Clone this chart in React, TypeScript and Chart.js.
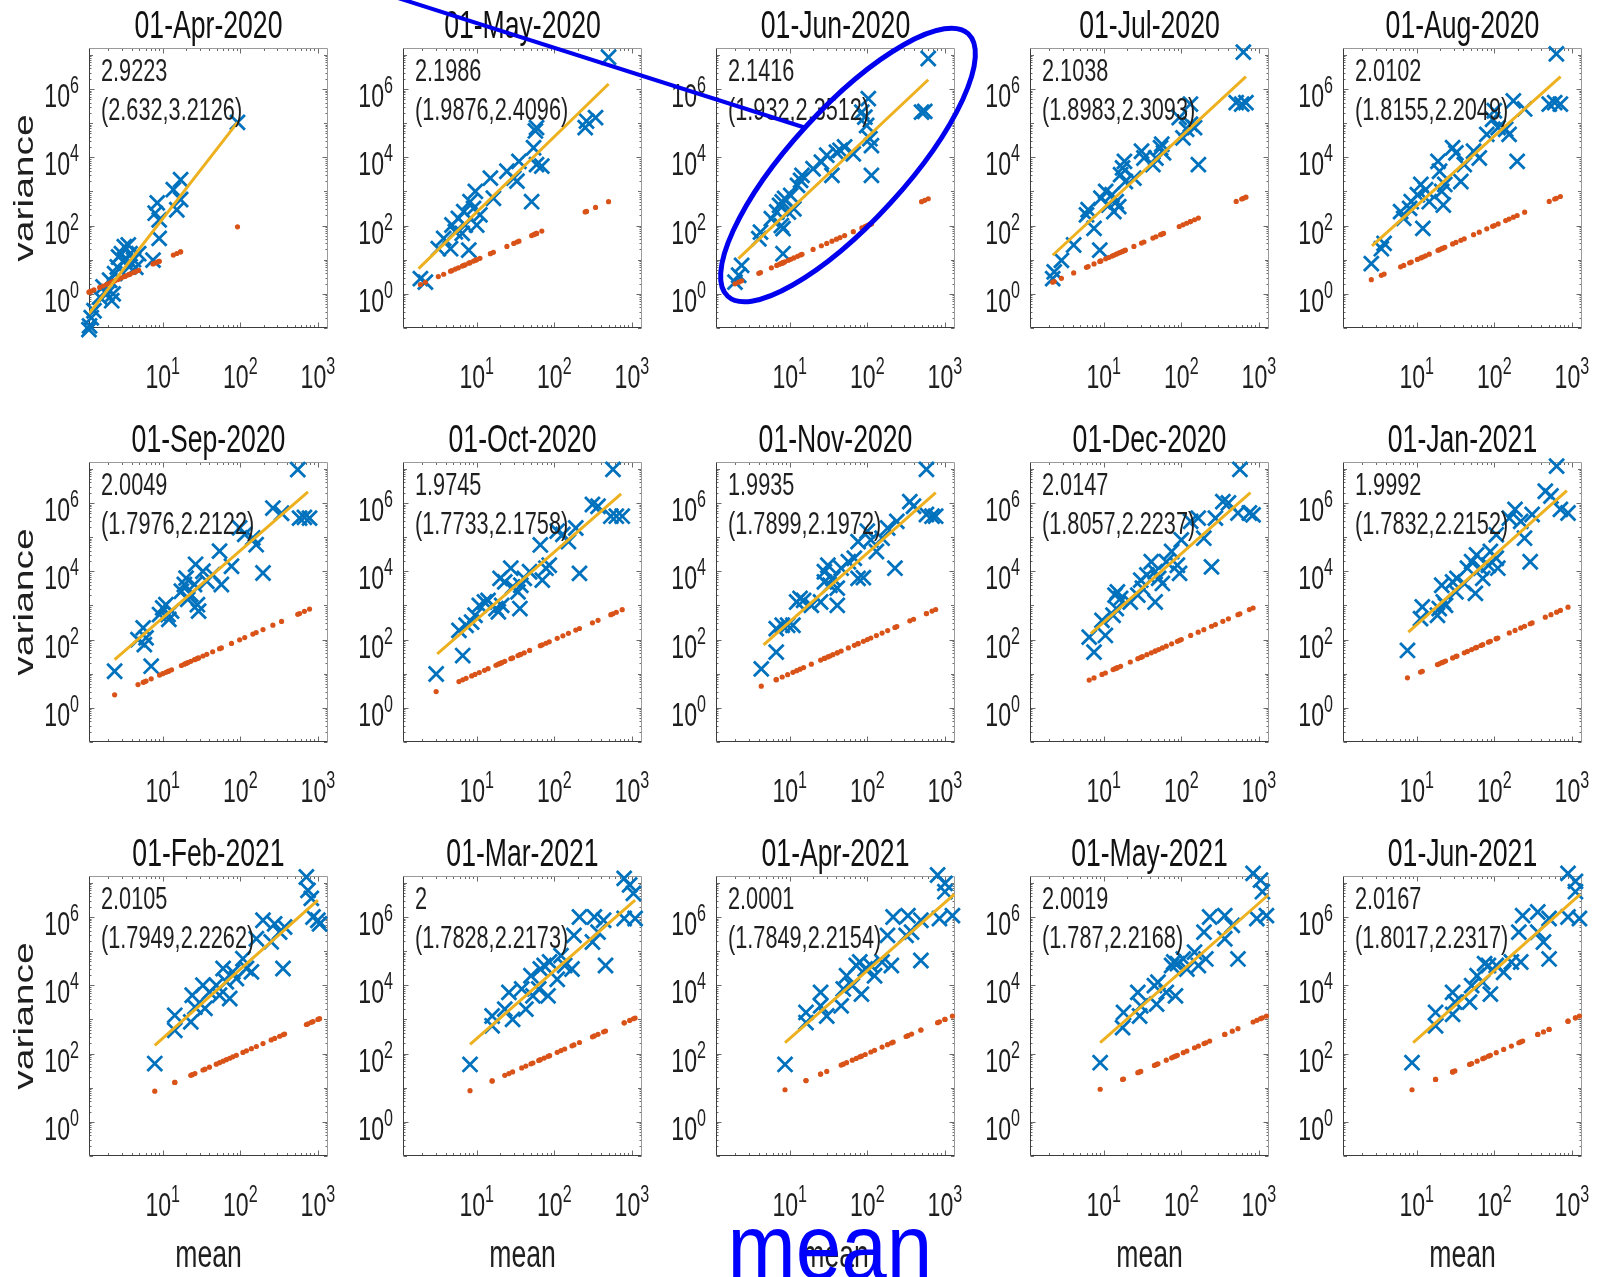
import React, { useEffect, useRef } from "react";
import { Chart, registerables } from "chart.js";

Chart.register(...registerables);

// ---------------- data ----------------
const panelTitles = [
  "01-Apr-2020", "01-May-2020", "01-Jun-2020", "01-Jul-2020", "01-Aug-2020",
  "01-Sep-2020", "01-Oct-2020", "01-Nov-2020", "01-Dec-2020", "01-Jan-2021",
  "01-Feb-2021", "01-Mar-2021", "01-Apr-2021", "01-May-2021", "01-Jun-2021",
];
const slopeLabels = [
  "2.9223", "2.1986", "2.1416", "2.1038", "2.0102",
  "2.0049", "1.9745", "1.9935", "2.0147", "1.9992",
  "2.0105", "2", "2.0001", "2.0019", "2.0167",
];
const ciLabels = [
  "(2.632,3.2126)", "(1.9876,2.4096)", "(1.932,2.3512)", "(1.8983,2.3093)", "(1.8155,2.2049)",
  "(1.7976,2.2122)", "(1.7733,2.1758)", "(1.7899,2.1972)", "(1.8057,2.2237)", "(1.7832,2.2152)",
  "(1.7949,2.2262)", "(1.7828,2.2173)", "(1.7849,2.2154)", "(1.787,2.2168)", "(1.8017,2.2317)",
];
const xTickExponents = [1, 2, 3];
const yTickExponents = [0, 2, 4, 6];
const xAxisLabel = "mean";
const yAxisLabel = "variance";
const bigLabel = "mean";

const meanApr20 = [1.12, 1.14, 1.2, 1.3, 1.54, 1.7, 1.9, 2.07, 2.2, 2.3, 2.4, 2.6, 2.7, 2.94, 3.2, 3.3, 3.6, 3.7, 3.8, 4.2, 4.5, 4.9, 7.5, 8.0, 8.5, 9.0, 9.0, 13.7, 15.2, 17, 17, 92];
const varApr20 = [0.09, 0.115, 0.2, 0.32, 0.8, 1.6, 1.0, 2.5, 0.63, 1.0, 3.9, 6.1, 12, 15, 24, 9.7, 27, 6.2, 15, 10, 6, 15, 9.7, 230, 460, 147, 42, 1130, 290, 2200, 580, 1.05e5];

const meanMay20 = [1.88, 2.18, 3.2, 3.75, 4.6, 4.8, 5.3, 5.8, 6.5, 6.8, 7.1, 7.9, 8.2, 9.1, 9.6, 10, 11, 15, 16.4, 24.5, 30, 35, 33, 51, 54, 57, 59, 59, 69, 250, 260, 340, 500];
const varMay20 = [2.8, 2.2, 21, 42, 21, 104, 66, 163, 59, 257, 104, 19, 500, 320, 1000, 104, 205, 2450, 630, 3900, 2450, 7600, 2000, 500, 19000, 59000, 74000, 6100, 5500, 74000, 1.15e5, 1.45e5, 8.5e6];

const meanJun20 = [1.97, 2.2, 2.4, 4.0, 4.2, 5.8, 6.8, 7.4, 7.8, 8.0, 8.2, 8.2, 8.6, 9.6, 10.3, 11.3, 12.6, 13.8, 14.4, 20, 25.6, 30, 35, 40, 44.5, 51, 66, 85, 93, 98, 103, 108, 113, 113, 500, 550, 610];
const varJun20 = [2.2, 3.5, 6.8, 41, 64, 158, 250, 390, 100, 490, 81, 15, 620, 250, 760, 310, 1500, 2100, 2950, 4600, 7200, 11500, 2950, 14000, 16000, 20000, 12600, 2.1e5, 1.5e5, 8.5e4, 5.2e5, 3.5e4, 2.2e4, 2950, 2.1e5, 2.2e5, 7.8e6];

const meanJul20 = [2.2, 2.3, 2.85, 4.1, 6.0, 6.3, 7.5, 8.9, 9.2, 10.6, 11.6, 12.8, 13.5, 14.5, 15.6, 16.5, 17.5, 19, 24.5, 18.5, 30.7, 33, 43, 47, 54, 56, 59, 94, 105, 117, 131, 148, 131, 166, 510, 600, 680, 630];
const varJul20 = [2.8, 4.4, 9.6, 27, 205, 290, 83, 19, 630, 1000, 400, 800, 257, 500, 360, 3100, 4900, 1950, 2450, 7600, 15000, 9500, 6100, 9500, 19000, 24000, 13500, 1.45e5, 37000, 66000, 93000, 74000, 3.6e5, 6100, 4e5, 3.6e5, 4e5, 1.2e7];

const meanAug20 = [2.6, 3.5, 3.8, 6.2, 6.8, 8.1, 8.5, 10.2, 11.3, 12, 13, 14.5, 18.8, 19.7, 21, 22, 23, 29, 32, 37, 41, 54, 64, 80, 95, 100, 112, 140, 155, 176, 197, 246, 510, 600, 710, 630];
const varAug20 = [7.7, 21, 30, 257, 163, 320, 500, 800, 1600, 83, 1120, 500, 7600, 3900, 1000, 400, 1600, 19000, 13500, 1950, 6100, 15000, 9500, 47000, 1.3e5, 2.3e5, 74000, 66000, 47000, 4.5e5, 7600, 2.6e5, 3.6e5, 4e5, 3.6e5, 1.07e7];

const meanSep20 = [2.4, 4.8, 5.6, 5.8, 6.1, 7.1, 9.1, 10, 11, 11.7, 12, 13, 17.4, 19, 20, 21, 23, 25.7, 26.5, 28, 29, 33, 37, 44, 54, 57, 77, 98, 114, 145, 160, 196, 263, 340, 580, 670, 780, 550];
const varSep20 = [11.8, 100, 220, 71, 112, 16.6, 540, 850, 1050, 540, 390, 680, 2600, 4100, 6300, 1500, 2100, 4100, 16000, 1050, 680, 10000, 5100, 8000, 39000, 4100, 14000, 1.86e5, 1.2e5, 95000, 60000, 8900, 7.1e5, 5e5, 3.6e5, 3.8e5, 3.6e5, 9.5e6];

const meanOct20 = [3.0, 5.9, 6.6, 7.3, 8.6, 9.5, 10.8, 12.6, 14, 17.7, 19, 20, 21, 23, 27.5, 29, 34, 36, 37, 41, 48, 66, 70, 78, 86, 109, 129, 152, 189, 211, 310, 366, 535, 630, 750, 570];
const varOct20 = [9.8, 186, 34, 263, 325, 515, 1000, 1260, 1400, 810, 650, 6200, 1000, 4900, 12300, 3500, 2500, 810, 3900, 6200, 9700, 59000, 5500, 12300, 15000, 1.5e5, 1.2e5, 74000, 1.85e5, 8700, 9e5, 8e5, 4.1e5, 4.1e5, 4.1e5, 9.6e6];

const meanNov20 = [4.3, 6.7, 6.7, 8, 9.4, 11, 12.3, 13.6, 15.1, 19, 25, 28, 28, 31, 33, 36, 41, 41, 46, 57, 68, 76, 76, 89, 100, 111, 131, 155, 183, 227, 240, 353, 394, 578, 682, 760, 578];
const varNov20 = [13.8, 43, 209, 263, 263, 263, 1260, 1600, 1400, 1000, 1260, 9700, 4900, 15000, 3900, 6200, 1000, 3200, 12300, 19000, 24000, 6200, 74000, 6500, 1.5e5, 83000, 38000, 93000, 1.85e5, 12300, 2.9e5, 1.1e6, 8e5, 4.6e5, 4.1e5, 4.1e5, 9.6e6];

const meanDec20 = [6.5, 7.5, 9.5, 10.5, 13.2, 14, 14.5, 15, 16.5, 22, 27.5, 30, 31.5, 36, 41, 46, 46, 51, 57, 64, 75, 89, 95, 100, 132, 165, 195, 245, 275, 343, 405, 537, 754, 841, 569];
const varDec20 = [118, 43, 365, 132, 515, 2000, 810, 2500, 1600, 1260, 2000, 5500, 3200, 7800, 19000, 1260, 9800, 6200, 4400, 19000, 38000, 15000, 8700, 83000, 2.9e5, 3.6e5, 93000, 13500, 3.6e5, 1.1e6, 1e6, 5.1e5, 5.1e5, 4.5e5, 9.6e6];

const meanJan21 = [7.6, 11.2, 11.8, 18.5, 19.5, 21, 22, 23.5, 29, 32, 33, 41, 45, 51, 57, 59, 67, 71, 84, 89, 106, 111, 106, 156, 185, 219, 245, 290, 307, 454, 537, 711, 891, 635];
const varJan21 = [48, 410, 910, 515, 810, 3900, 1260, 1000, 4900, 2500, 6200, 4400, 12300, 19000, 2250, 30000, 12300, 6200, 15000, 38000, 24000, 12300, 1.17e5, 3.6e5, 6.5e5, 2.9e5, 93000, 19000, 4.6e5, 2.2e6, 1.6e6, 6.5e5, 5.1e5, 1.2e7];

const meanFeb21 = [7.9, 14.3, 14.3, 23, 24, 26, 33, 35, 40, 49, 54, 60, 66, 73, 80, 89, 108, 120, 139, 161, 196, 250, 277, 321, 355, 372, 710, 745, 822, 865, 1000, 1050];
const varFeb21 = [51, 480, 1320, 850, 5100, 2300, 10000, 2100, 6300, 10000, 5100, 31000, 12600, 4100, 24600, 15800, 60000, 31000, 24600, 2.3e5, 8e5, 1.86e5, 6.3e5, 3.6e5, 31000, 5.1e5, 1.48e7, 6e6, 3.5e6, 1e6, 8e5, 6.3e5];

const meanMar21 = [8.2, 15.8, 15.8, 23, 26, 29, 38, 43, 50, 53, 63, 66, 74, 83, 87, 109, 122, 136, 169, 179, 211, 310, 328, 366, 457, 432, 795, 935, 1045, 795, 1100];
const varMar21 = [48, 650, 1260, 2000, 6200, 1000, 7800, 2000, 19000, 4900, 7800, 30000, 38000, 4900, 48000, 15000, 74000, 38000, 30000, 2.9e5, 1e6, 1.85e5, 1e6, 3.6e5, 38000, 8e5, 1.35e7, 8.7e6, 4.9e6, 9e5, 9e5];

const meanApr21 = [8.7, 16.2, 16.2, 25, 25, 30, 46, 49, 54, 64, 72, 80, 84, 94, 111, 124, 155, 182, 204, 215, 316, 334, 372, 490, 490, 805, 1000, 1000, 850, 1250];
const varApr21 = [48, 810, 1600, 6200, 2500, 1260, 2500, 7800, 19000, 9800, 38000, 48000, 5500, 30000, 38000, 19000, 48000, 2.9e5, 38000, 1e6, 2.9e5, 1.1e6, 3.6e5, 8e5, 53000, 1.7e7, 9.6e6, 5.5e6, 9e5, 1.1e6];

const meanMay21 = [9, 17.5, 18, 27.5, 29, 30, 45, 48, 50, 64, 75, 80, 84, 89, 106, 118, 148, 166, 196, 207, 232, 363, 363, 454, 537, 841, 1050, 1110, 940, 1250];
const varMay21 = [54, 575, 1600, 6200, 1260, 2500, 9800, 2800, 12300, 6200, 38000, 48000, 4900, 43000, 59000, 30000, 93000, 38000, 3.6e5, 59000, 1e6, 2.3e5, 1.1e6, 5.7e5, 59000, 1.9e7, 1.2e7, 5.5e6, 9e5, 1.1e6];

const meanJun21 = [8.7, 17.5, 17.5, 29, 29, 31, 48, 51, 60, 71, 75, 84, 89, 106, 132, 166, 207, 219, 232, 363, 363, 430, 508, 508, 891, 1110, 1110, 891, 1250];
const varJun21 = [54, 650, 1600, 6200, 1400, 3200, 3200, 9800, 19000, 12300, 43000, 38000, 5500, 38000, 24000, 48000, 3.6e5, 48000, 1.1e6, 3.6e5, 1.4e6, 1.85e5, 59000, 9e5, 1.9e7, 1.1e7, 5.5e6, 1e6, 9e5];

// fitted power-law line end points (mean, variance)
const fitX = [
  [1.12, 92], [1.78, 500], [2.18, 610], [2.2, 680], [2.65, 714],
  [2.4, 745], [3.1, 726], [4.6, 762], [6.8, 778], [7.8, 861],
  [7.9, 1000], [8.2, 1100], [8.7, 1320], [9, 1320], [9, 1280],
];
const fitY = [
  [0.26, 1.05e5], [5.5, 1.4e6], [10.7, 1.86e6], [13.5, 2.3e6], [25.5, 2.3e6],
  [26, 2.1e6], [38, 1.86e6], [70, 2e6], [148, 2e6], [166, 2.3e6],
  [175, 3.1e6], [186, 3.1e6], [209, 4.6e6], [209, 4.4e6], [209, 4.6e6],
];

const panelMeans = [meanApr20, meanMay20, meanJun20, meanJul20, meanAug20, meanSep20, meanOct20, meanNov20, meanDec20, meanJan21, meanFeb21, meanMar21, meanApr21, meanMay21, meanJun21];
const panelVars = [varApr20, varMay20, varJun20, varJul20, varAug20, varSep20, varOct20, varNov20, varDec20, varJan21, varFeb21, varMar21, varApr21, varMay21, varJun21];

// ---------------- layout / style ----------------
const X_MIN = 1.122;
const X_MAX = 1349;
const Y_MIN = 0.1;
const Y_MAX = 1.585e7;

const COLS = 5;
const COL_LEFT = [89, 403, 716, 1030, 1343];
const ROW_TOP = [48, 462, 876];
const PLOT_W = 239;
const PLOT_H = 280;
const PAD_LEFT = 89;
const PAD_TOP = 48;
const CANVAS_W = 345;
const CANVAS_H = 449;

const FONT = '"Liberation Sans", Arial, Helvetica, sans-serif';
const SX = 0.7;
const BLUE = "#0072BD";
const ORANGE = "#D95319";
const YELLOW = "#EDB120";
const TEXT = "#1f1f1f";
const CALLOUT = "#0000EE";

function drawText(ctx: CanvasRenderingContext2D, text: string, x: number, y: number, size: number, align: CanvasTextAlign, color: string, sx = SX, rotate = false) {
  ctx.save();
  ctx.translate(x, y);
  if (rotate) {
    ctx.rotate(-Math.PI / 2);
    ctx.scale(1, sx);
  } else {
    ctx.scale(sx, 1);
  }
  ctx.font = `${size}px ${FONT}`;
  ctx.textAlign = align;
  ctx.textBaseline = "alphabetic";
  ctx.fillStyle = color;
  ctx.fillText(text, 0, 0);
  ctx.restore();
}

const BASE_SIZE = 33;
const SUP_SIZE = 23;
const SUP_RAISE = 14;

function drawPow(ctx: CanvasRenderingContext2D, exp: number, x: number, y: number, align: "center" | "right") {
  const base = "10";
  const sup = String(exp);
  ctx.save();
  ctx.font = `${BASE_SIZE}px ${FONT}`;
  const wb = ctx.measureText(base).width * SX;
  ctx.font = `${SUP_SIZE}px ${FONT}`;
  const ws = ctx.measureText(sup).width * SX;
  ctx.restore();
  const total = wb + ws;
  const x0 = align === "center" ? x - total / 2 : x - total;
  drawText(ctx, base, x0, y, BASE_SIZE, "left", TEXT);
  drawText(ctx, sup, x0 + wb, y - SUP_RAISE, SUP_SIZE, "left", TEXT);
}

function makeAxesPlugin(index: number, row: number, col: number) {
  return {
    id: "matlabAxes",
    beforeDatasetsDraw(chart: any) {
      const ctx: CanvasRenderingContext2D = chart.ctx;
      const a = chart.chartArea;
      const xs = chart.scales.x;
      const ys = chart.scales.y;
      const L = Math.round(a.left) + 0.5;
      const R = Math.round(a.right) - 0.5;
      const T = Math.round(a.top) + 0.5;
      const B = Math.round(a.bottom) - 0.5;
      ctx.save();
      ctx.lineWidth = 1;
      ctx.strokeStyle = "#6a6a6a";
      ctx.beginPath();
      for (let k = 0; k <= 3; k++) {
        for (let m = 1; m <= 9; m++) {
          const v = m * Math.pow(10, k);
          if (v < xs.min || v > xs.max) continue;
          const px = Math.round(xs.getPixelForValue(v)) + 0.5;
          const len = m === 1 ? 5 : 2.5;
          ctx.moveTo(px, B);
          ctx.lineTo(px, B - len);
          ctx.moveTo(px, T);
          ctx.lineTo(px, T + len);
        }
      }
      for (let k = -1; k <= 7; k++) {
        for (let m = 1; m <= 9; m++) {
          const v = m * Math.pow(10, k);
          if (v < ys.min || v > ys.max) continue;
          const py = Math.round(ys.getPixelForValue(v)) + 0.5;
          const len = m === 1 ? (k % 2 === 0 ? 5 : 3.5) : 2;
          ctx.moveTo(L, py);
          ctx.lineTo(L + len, py);
          ctx.moveTo(R, py);
          ctx.lineTo(R - len, py);
        }
      }
      ctx.stroke();
      ctx.strokeStyle = "#9a9a9a";
      ctx.beginPath();
      ctx.moveTo(L, T);
      ctx.lineTo(R, T);
      ctx.lineTo(R, B);
      ctx.stroke();
      ctx.strokeStyle = "#3c3c3c";
      ctx.beginPath();
      ctx.moveTo(L, T);
      ctx.lineTo(L, B);
      ctx.lineTo(R, B);
      ctx.stroke();
      ctx.restore();
    },
    afterDraw(chart: any) {
      const ctx: CanvasRenderingContext2D = chart.ctx;
      const a = chart.chartArea;
      const xs = chart.scales.x;
      const ys = chart.scales.y;
      const cx = (a.left + a.right) / 2;
      drawText(ctx, panelTitles[index], cx, a.top - 10, 38, "center", "#111111");
      drawText(ctx, slopeLabels[index], a.left + 12, a.top + 33, 31, "left", TEXT);
      drawText(ctx, ciLabels[index], a.left + 12, a.top + 72, 31, "left", TEXT);
      for (const e of xTickExponents) {
        drawPow(ctx, e, xs.getPixelForValue(Math.pow(10, e)), a.bottom + 60, "center");
      }
      for (const e of yTickExponents) {
        drawPow(ctx, e, a.left - 10, ys.getPixelForValue(Math.pow(10, e)) + 18, "right");
      }
      if (col === 0) {
        drawText(ctx, yAxisLabel, a.left - 56, (a.top + a.bottom) / 2, 39, "center", TEXT, SX, true);
      }
      if (row === 2) {
        drawText(ctx, xAxisLabel, cx, a.bottom + 111, 38, "center", TEXT);
      }
    },
  };
}

function Panel({ index }: { index: number }) {
  const canvasRef = useRef<HTMLCanvasElement | null>(null);
  const row = Math.floor(index / COLS);
  const col = index % COLS;

  useEffect(() => {
    const canvas = canvasRef.current;
    if (!canvas) return;
    const means = panelMeans[index];
    const vars = panelVars[index];
    const n = Math.min(means.length, vars.length);
    const crosses: { x: number; y: number }[] = [];
    const poisson: { x: number; y: number }[] = [];
    for (let i = 0; i < n; i++) {
      crosses.push({ x: means[i], y: vars[i] });
      poisson.push({ x: means[i], y: means[i] });
    }
    const fit = [
      { x: fitX[index][0], y: fitY[index][0] },
      { x: fitX[index][1], y: fitY[index][1] },
    ];
    const chart = new Chart(canvas, {
      type: "scatter",
      data: {
        datasets: [
          {
            type: "line",
            label: "fit",
            data: fit,
            borderColor: YELLOW,
            backgroundColor: YELLOW,
            borderWidth: 3,
            pointRadius: 0,
            fill: false,
            tension: 0,
          } as any,
          {
            label: "variance = mean",
            data: poisson,
            pointStyle: "circle",
            pointRadius: 2.6,
            pointBackgroundColor: ORANGE,
            pointBorderColor: ORANGE,
            pointBorderWidth: 0,
            clip: false,
          } as any,
          {
            label: "variance",
            data: crosses,
            pointStyle: "crossRot",
            pointRadius: 10.5,
            pointBackgroundColor: BLUE,
            pointBorderColor: BLUE,
            pointBorderWidth: 2.8,
            clip: false,
          } as any,
        ],
      },
      options: {
        responsive: false,
        maintainAspectRatio: false,
        animation: false,
        events: [],
        layout: {
          padding: {
            left: PAD_LEFT,
            top: PAD_TOP,
            right: CANVAS_W - PAD_LEFT - PLOT_W,
            bottom: CANVAS_H - PAD_TOP - PLOT_H,
          },
        },
        plugins: {
          legend: { display: false },
          tooltip: { enabled: false },
          title: { display: false },
        },
        scales: {
          x: { type: "logarithmic", min: X_MIN, max: X_MAX, bounds: "data", display: false },
          y: { type: "logarithmic", min: Y_MIN, max: Y_MAX, bounds: "data", display: false },
        },
      } as any,
      plugins: [makeAxesPlugin(index, row, col)],
    });
    return () => chart.destroy();
  }, [index, row, col]);

  return (
    <canvas
      ref={canvasRef}
      width={CANVAS_W}
      height={CANVAS_H}
      style={{
        position: "absolute",
        left: COL_LEFT[col] - PAD_LEFT,
        top: ROW_TOP[row] - PAD_TOP,
        width: CANVAS_W,
        height: CANVAS_H,
      }}
    />
  );
}

// callout annotation geometry (page pixels)
const CALLOUT_LINE = [398, -2, 806, 128];
const CALLOUT_ELLIPSE = [848, 165, 178, 57, -47.5];
const BIG_LABEL_POS = [830, 1279];

function Overlay() {
  const canvasRef = useRef<HTMLCanvasElement | null>(null);
  useEffect(() => {
    const canvas = canvasRef.current;
    if (!canvas) return;
    const chart = new Chart(canvas, {
      type: "scatter",
      data: { datasets: [] },
      options: {
        responsive: false,
        animation: false,
        events: [],
        plugins: { legend: { display: false }, tooltip: { enabled: false } },
        scales: { x: { display: false }, y: { display: false } },
      } as any,
      plugins: [
        {
          id: "callout",
          afterDraw(c: any) {
            const ctx: CanvasRenderingContext2D = c.ctx;
            ctx.save();
            ctx.strokeStyle = CALLOUT;
            ctx.lineWidth = 4;
            ctx.beginPath();
            ctx.moveTo(CALLOUT_LINE[0], CALLOUT_LINE[1]);
            ctx.lineTo(CALLOUT_LINE[2], CALLOUT_LINE[3]);
            ctx.stroke();
            ctx.lineWidth = 5;
            ctx.beginPath();
            ctx.ellipse(CALLOUT_ELLIPSE[0], CALLOUT_ELLIPSE[1], CALLOUT_ELLIPSE[2], CALLOUT_ELLIPSE[3], (CALLOUT_ELLIPSE[4] * Math.PI) / 180, 0, Math.PI * 2);
            ctx.stroke();
            ctx.restore();
            drawText(ctx, bigLabel, BIG_LABEL_POS[0], BIG_LABEL_POS[1], 92, "center", "#0000FF", 0.89);
          },
        },
      ],
    });
    return () => chart.destroy();
  }, []);
  return (
    <canvas
      ref={canvasRef}
      width={1597}
      height={1277}
      style={{ position: "absolute", left: 0, top: 0, width: 1597, height: 1277, pointerEvents: "none", zIndex: 5 }}
    />
  );
}

export default function App() {
  return (
    <div style={{ position: "absolute", left: 0, top: 0, width: 1597, height: 1277, background: "#ffffff", overflow: "hidden" }}>
      {panelTitles.map((_, i) => (
        <Panel key={i} index={i} />
      ))}
      <Overlay />
    </div>
  );
}
